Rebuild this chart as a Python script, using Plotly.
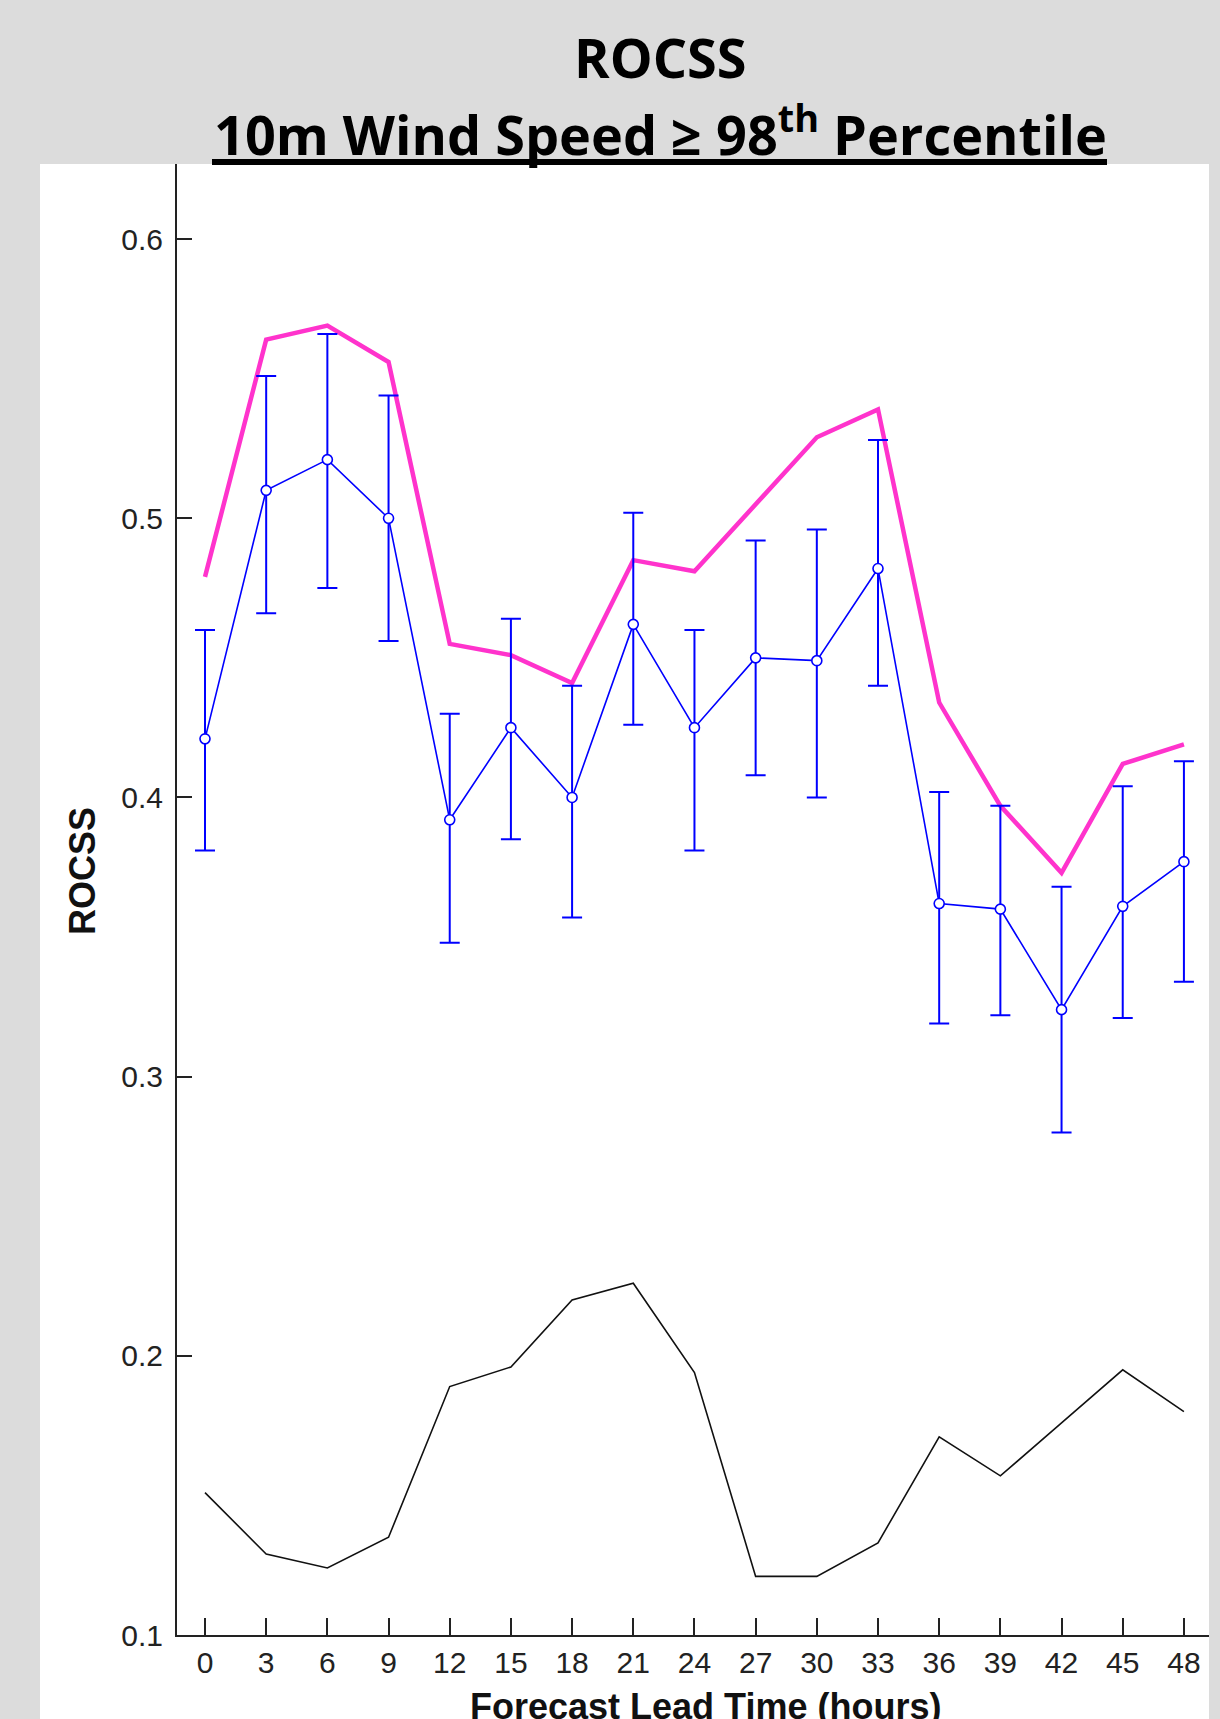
import plotly.graph_objects as go

lead_hours = [0, 3, 6, 9, 12, 15, 18, 21, 24, 27, 30, 33, 36, 39, 42, 45, 48]

rocss_mean = [0.421, 0.510, 0.521, 0.500, 0.392, 0.425, 0.400, 0.462, 0.425, 0.450,
              0.449, 0.482, 0.362, 0.360, 0.324, 0.361, 0.377]
rocss_upper = [0.460, 0.551, 0.566, 0.544, 0.430, 0.464, 0.440, 0.502, 0.460, 0.492,
               0.496, 0.528, 0.402, 0.397, 0.368, 0.404, 0.413]
rocss_lower = [0.381, 0.466, 0.475, 0.456, 0.348, 0.385, 0.357, 0.426, 0.381, 0.408,
               0.400, 0.440, 0.319, 0.322, 0.280, 0.321, 0.334]
rocss_magenta = [0.479, 0.564, 0.569, 0.556, 0.455, 0.451, 0.441, 0.485, 0.481, 0.505,
                 0.529, 0.539, 0.434, 0.397, 0.373, 0.412, 0.419]
rocss_black = [0.151, 0.129, 0.124, 0.135, 0.189, 0.196, 0.220, 0.226, 0.194, 0.121,
               0.121, 0.133, 0.171, 0.157, 0.176, 0.195, 0.180]

y_tickvals = [0.1, 0.2, 0.3, 0.4, 0.5, 0.6]
y_ticktext = ["0.1", "0.2", "0.3", "0.4", "0.5", "0.6"]

err_plus = [u - m for u, m in zip(rocss_upper, rocss_mean)]
err_minus = [m - l for m, l in zip(rocss_mean, rocss_lower)]

W, H = 1220, 1719
L, R, T, B = 177, 11, 164, 84
pw = W - L - R
ph = H - T - B

def px_x(p):
    return (p - L) / pw

def px_y(p):
    return (H - B - p) / ph

tick_font = dict(family="Liberation Sans, Arial, sans-serif", size=30, color="#222222")
title_font = dict(family="Liberation Sans, Arial, sans-serif", size=36, color="#111111")
head_font = dict(family="Open Sans, Lato, sans-serif", size=54, color="black")

fig = go.Figure()

fig.add_trace(go.Scatter(
    x=lead_hours, y=rocss_black, mode="lines",
    line=dict(color="#111111", width=1.6), showlegend=False, hoverinfo="skip"))

fig.add_trace(go.Scatter(
    x=lead_hours, y=rocss_magenta, mode="lines",
    line=dict(color="#ff33cc", width=4.5), showlegend=False))

fig.add_trace(go.Scatter(
    x=lead_hours, y=rocss_mean, mode="lines+markers",
    line=dict(color="#0000ff", width=1.6),
    marker=dict(symbol="circle", size=10, color="white", line=dict(color="#0000ff", width=1.6)),
    error_y=dict(type="data", symmetric=False, array=err_plus, arrayminus=err_minus,
                 color="#0000ff", thickness=2, width=10),
    showlegend=False))

fig.update_layout(
    width=W, height=H,
    margin=dict(l=L, r=R, t=T, b=B, pad=0),
    paper_bgcolor="#dcdcdc",
    plot_bgcolor="white",
    xaxis=dict(range=[-1.373, 49.23], tickmode="array", tickvals=lead_hours,
               ticktext=[str(h) for h in lead_hours],
               ticks="inside", ticklen=17, tickwidth=2, tickcolor="#222222",
               showline=True, linecolor="#222222", linewidth=2,
               showgrid=False, zeroline=False, tickfont=tick_font,
               ticklabelstandoff=0),
    yaxis=dict(range=[0.1, 0.6269], tickmode="array", tickvals=y_tickvals, ticktext=y_ticktext,
               ticks="inside", ticklen=15, tickwidth=2, tickcolor="#222222",
               showline=True, linecolor="#222222", linewidth=2,
               showgrid=False, zeroline=False, tickfont=tick_font,
               ticklabelstandoff=6),
    shapes=[
        dict(type="rect", xref="paper", yref="paper", x0=px_x(40), x1=px_x(1209),
             y0=px_y(1719), y1=px_y(164), fillcolor="white", line=dict(width=0), layer="below"),
        dict(type="line", xref="paper", yref="paper", x0=px_x(212), x1=px_x(1107),
             y0=px_y(162), y1=px_y(162), line=dict(color="black", width=6)),
    ],
    annotations=[
        dict(text="<b>ROCSS</b>", xref="paper", yref="paper", x=px_x(660), y=px_y(57),
             xanchor="center", yanchor="middle", showarrow=False, font=head_font),
        dict(text="<b>10m Wind Speed ≥ 98<sup>th</sup> Percentile</b>", xref="paper", yref="paper",
             x=px_x(660), y=px_y(131), xanchor="center", yanchor="middle", showarrow=False,
             font=head_font),
        dict(text="<b>ROCSS</b>", xref="paper", yref="paper", x=px_x(82), y=px_y(871),
             xanchor="center", yanchor="middle", textangle=-90, showarrow=False, font=title_font),
        dict(text="<b>Forecast Lead Time (hours)</b>", xref="paper", yref="paper",
             x=px_x(705), y=px_y(1706), xanchor="center", yanchor="middle", showarrow=False,
             font=title_font),
    ],
)

fig.write_html("out.html", config={"displayModeBar": False},
               post_script="document.body.style.margin='0';document.body.style.padding='0';")
